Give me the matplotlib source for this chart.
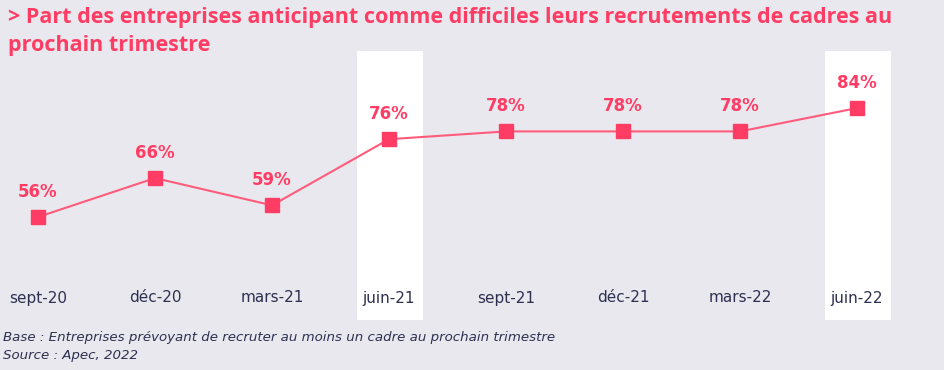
import matplotlib
matplotlib.use("Agg")
import matplotlib.pyplot as plt

# trimestres et part des entreprises (%)
periodes = ["sept-20", "déc-20", "mars-21", "juin-21", "sept-21", "déc-21", "mars-22", "juin-22"]
valeurs = [56, 66, 59, 76, 78, 78, 78, 84]
surlignes = ["juin-21", "juin-22"]

rose = "#FF3D64"
marine = "#2E3050"
fond = "#E8E8EE"

plt.rcParams['font.family'] = ['Open Sans', 'DejaVu Sans']

fig = plt.figure(figsize=(9.45, 3.7), dpi=100, facecolor=fond)
ax = fig.add_axes([0, 0, 1, 1])
ax.set_facecolor(fond)
ax.set_xlim(-0.325, 7.752)
ax.set_ylim(16.67, 111.78)
ax.axis("off")

x = list(range(len(periodes)))

# bandes blanches
for p in surlignes:
    i = periodes.index(p)
    ax.axvspan(i - 0.27, i + 0.29, ymin=0.135, ymax=0.862, color="white", lw=0, zorder=1)

ax.plot(x, valeurs, color="#FF5C7C", lw=1.5, zorder=2)
ax.plot(x, valeurs, "s", color=rose, ms=10, zorder=3)

for xi, v in zip(x, valeurs):
    ax.annotate("%d%%" % v, (xi, v), xytext=(0, 18), textcoords="offset points",
                ha="center", va="center", color=rose, fontsize=12, fontweight="bold",
                family="DejaVu Sans", zorder=4)

for xi, p in zip(x, periodes):
    fig.text((38 + xi * 117) / 945, 1 - 298 / 370, p, ha="center", va="center",
             color=marine, fontsize=11, family="DejaVu Sans")

fig.text(8 / 945, 1 - 18 / 370, "> Part des entreprises anticipant comme difficiles leurs recrutements de cadres au",
         ha="left", va="center", color=rose, fontsize=15.5, fontweight="bold")
fig.text(8 / 945, 1 - 46 / 370, "prochain trimestre",
         ha="left", va="center", color=rose, fontsize=15.5, fontweight="bold")

fig.text(3 / 945, 1 - 338 / 370, "Base : Entreprises prévoyant de recruter au moins un cadre au prochain trimestre",
         ha="left", va="center", color=marine, fontsize=9.6, style="italic", family="DejaVu Sans")
fig.text(3 / 945, 1 - 355 / 370, "Source : Apec, 2022",
         ha="left", va="center", color=marine, fontsize=9.6, style="italic", family="DejaVu Sans")

fig.savefig("out.png", dpi=100, facecolor=fond)
